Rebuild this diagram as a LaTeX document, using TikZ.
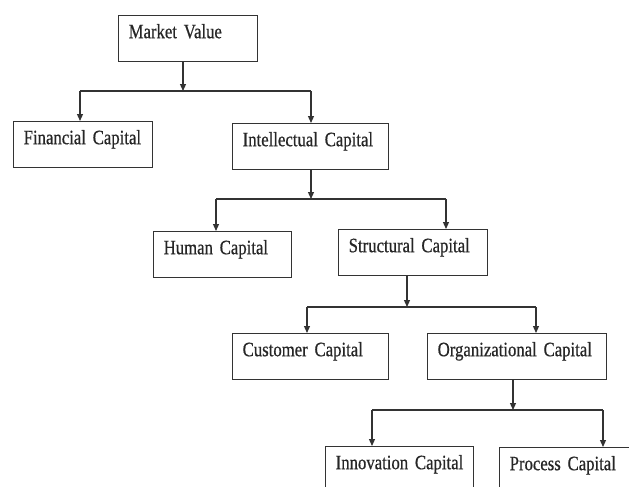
\documentclass[tikz,border=0pt]{standalone}
\usepackage{fontspec}
\setmainfont[FakeStretch=0.82, FakeBold=0.6]{Liberation Serif}
\usepackage{tikz}
\usetikzlibrary{arrows.meta}

\newcommand\boxfont{\fontsize{20.4}{23}\selectfont\spaceskip=0.17em plus 0.05em\relax}

\begin{document}
\begin{tikzpicture}[x=1pt, y=-1pt,
    box/.style={rectangle, draw=black!80, line width=1.4pt, anchor=north west, minimum height=46pt, inner xsep=10pt, text width=#1, text height=13.5pt, text depth=14.5pt, text=black!85, font=\boxfont},
    link/.style={draw=black!80, line width=1.2pt},
    arrow/.style={link, -{Triangle[length=7pt, width=6pt]}}]

\useasboundingbox (0,0) rectangle (629,487);

% Boxes
\node[box=119pt] (mv) at (118,15) {Market Value};
\node[box=119pt] (fin) at (13,121) {Financial Capital};
\node[box=136pt] (intel) at (232,123) {Intellectual Capital};
\node[box=118pt] (human) at (153,231) {Human Capital};
\node[box=129pt] (struct) at (338,229) {Structural Capital};
\node[box=136pt] (cust) at (232,333) {Customer Capital};
\node[box=159pt] (org) at (427,333) {Organizational Capital};
\node[box=128pt] (innov) at (325,446) {Innovation Capital};
\node[box=130pt] (proc) at (499,447) {Process Capital};

% Junctions and bar ends
\coordinate (j1) at (183,91);  \coordinate (l1) at (80,91);  \coordinate (r1) at (311,91);
\coordinate (j2) at (311,199); \coordinate (l2) at (216,199); \coordinate (r2) at (446,199);
\coordinate (j3) at (407,307); \coordinate (l3) at (307,307); \coordinate (r3) at (536,307);
\coordinate (j4) at (513,410); \coordinate (l4) at (372,410); \coordinate (r4) at (603,410);

% Market Value
\draw[arrow] (j1 |- mv.south) -- (j1);
\draw[link] (l1) -- (r1);
\draw[arrow] (l1) -- (l1 |- fin.north);
\draw[arrow] (r1) -- (r1 |- intel.north);

% Intellectual Capital
\draw[arrow] (j2 |- intel.south) -- (j2);
\draw[link] (l2) -- (r2);
\draw[arrow] (l2) -- (l2 |- human.north);
\draw[arrow] (r2) -- (r2 |- struct.north);

% Structural Capital
\draw[arrow] (j3 |- struct.south) -- (j3);
\draw[link] (l3) -- (r3);
\draw[arrow] (l3) -- (l3 |- cust.north);
\draw[arrow] (r3) -- (r3 |- org.north);

% Organizational Capital
\draw[arrow] (j4 |- org.south) -- (j4);
\draw[link] (l4) -- (r4);
\draw[arrow] (l4) -- (l4 |- innov.north);
\draw[arrow] (r4) -- (r4 |- proc.north);

\end{tikzpicture}
\end{document}
